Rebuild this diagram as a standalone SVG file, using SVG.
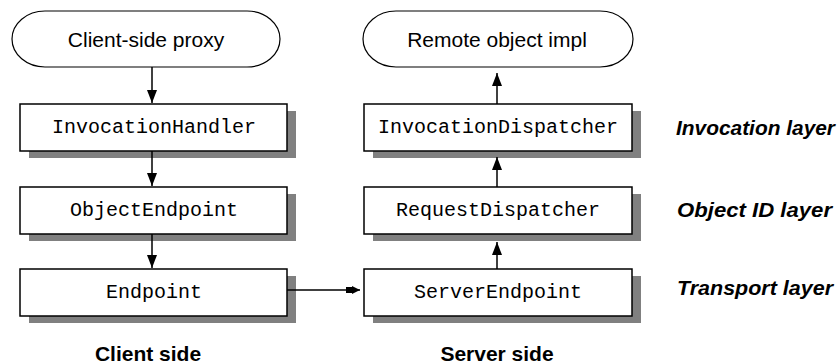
<svg xmlns="http://www.w3.org/2000/svg" width="840" height="364" viewBox="0 0 840 364">
  <defs>
    <style>
      .box { fill: #ffffff; stroke: #000000; stroke-width: 1.5; }
      .shadow { fill: #808080; }
      .term { fill: #ffffff; stroke: #000000; stroke-width: 1.2; }
      .mono { font-family: "Liberation Mono", "Courier New", monospace; font-size: 20px; fill: #000; text-anchor: middle; }
      .sans { font-family: "Liberation Sans", Arial, sans-serif; font-size: 21px; fill: #000; text-anchor: middle; }
      .side { font-family: "Liberation Sans", Arial, sans-serif; font-size: 21px; font-weight: bold; fill: #000; text-anchor: middle; }
      .layer { font-family: "Liberation Sans", Arial, sans-serif; font-size: 21px; font-style: italic; font-weight: bold; fill: #000; }
      .wire { stroke: #000000; stroke-width: 1.5; fill: none; }
    </style>
    <!-- filled triangular heads; tip sits on the line end -->
    <marker id="head" viewBox="0 0 13 10" refX="13" refY="5" markerWidth="13" markerHeight="10" markerUnits="userSpaceOnUse" orient="auto">
      <path d="M0,0 L13,5 L0,10 Z" fill="#000"/>
    </marker>
    <marker id="headSide" viewBox="0 0 14 8" refX="14" refY="4" markerWidth="14" markerHeight="8" markerUnits="userSpaceOnUse" orient="auto">
      <path d="M0,1 L6,1 L6,0 L14,4 L6,8 L6,7 L0,7 Z" fill="#000"/>
    </marker>
  </defs>

  <rect width="840" height="364" fill="#ffffff"/>

  <!-- client column -->
  <g id="client-proxy">
    <rect class="term" x="12" y="11" width="268" height="56" rx="33" ry="28"/>
    <text class="sans" x="146" y="47">Client-side proxy</text>
  </g>
  <g id="invocation-handler">
    <rect class="shadow" x="29" y="111" width="267" height="47"/>
    <rect class="box" x="20" y="104" width="267" height="47"/>
    <text class="mono" x="154" y="133">InvocationHandler</text>
  </g>
  <g id="object-endpoint">
    <rect class="shadow" x="29" y="194" width="267" height="47"/>
    <rect class="box" x="20" y="187" width="267" height="47"/>
    <text class="mono" x="154" y="216">ObjectEndpoint</text>
  </g>
  <g id="endpoint">
    <rect class="shadow" x="29" y="276" width="267" height="47"/>
    <rect class="box" x="20" y="269" width="267" height="47"/>
    <text class="mono" x="154" y="298">Endpoint</text>
  </g>

  <!-- server column -->
  <g id="remote-impl">
    <rect class="term" x="363" y="11" width="270" height="56" rx="33" ry="28"/>
    <text class="sans" x="497" y="47">Remote object impl</text>
  </g>
  <g id="invocation-dispatcher">
    <rect class="shadow" x="373" y="111" width="268" height="47"/>
    <rect class="box" x="364" y="104" width="268" height="47"/>
    <text class="mono" x="498" y="133">InvocationDispatcher</text>
  </g>
  <g id="request-dispatcher">
    <rect class="shadow" x="373" y="194" width="268" height="47"/>
    <rect class="box" x="364" y="187" width="268" height="47"/>
    <text class="mono" x="498" y="216">RequestDispatcher</text>
  </g>
  <g id="server-endpoint">
    <rect class="shadow" x="373" y="276" width="268" height="47"/>
    <rect class="box" x="364" y="269" width="268" height="47"/>
    <text class="mono" x="498" y="298">ServerEndpoint</text>
  </g>

  <!-- connectors -->
  <g id="connectors">
    <line class="wire" x1="152" y1="67" x2="152" y2="103" marker-end="url(#head)"/>
    <line class="wire" x1="152" y1="151" x2="152" y2="186" marker-end="url(#head)"/>
    <line class="wire" x1="152" y1="234" x2="152" y2="268" marker-end="url(#head)"/>
    <line class="wire" x1="497" y1="104" x2="497" y2="73" marker-end="url(#head)"/>
    <line class="wire" x1="497" y1="187" x2="497" y2="157" marker-end="url(#head)"/>
    <line class="wire" x1="497" y1="269" x2="497" y2="242" marker-end="url(#head)"/>
    <line class="wire" x1="287" y1="290" x2="360" y2="290" marker-end="url(#headSide)"/>
  </g>

  <!-- layer captions -->
  <g id="layer-labels">
    <text class="layer" x="676" y="135" textLength="159" lengthAdjust="spacingAndGlyphs">Invocation layer</text>
    <text class="layer" x="677" y="217" textLength="155" lengthAdjust="spacingAndGlyphs">Object ID layer</text>
    <text class="layer" x="677" y="295" textLength="156" lengthAdjust="spacingAndGlyphs">Transport layer</text>
  </g>

  <!-- column captions -->
  <g id="side-labels">
    <text class="side" x="148" y="361">Client side</text>
    <text class="side" x="497" y="361">Server side</text>
  </g>
</svg>
